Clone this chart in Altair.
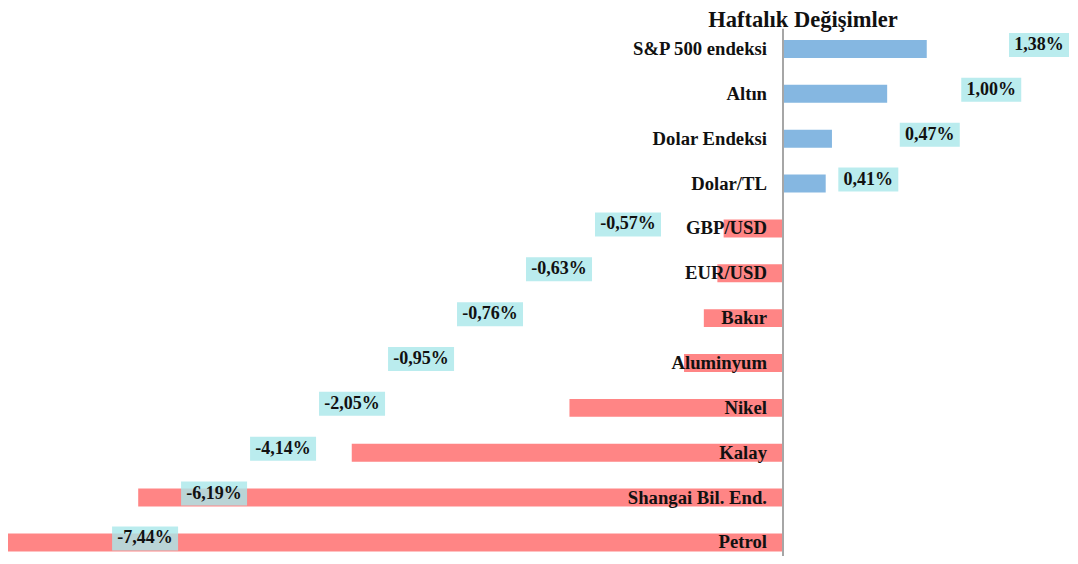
import altair as alt
import pandas as pd

categories = ["S&P 500 endeksi", "Altın", "Dolar Endeksi", "Dolar/TL", "GBP/USD",
              "EUR/USD", "Bakır", "Aluminyum", "Nikel", "Kalay",
              "Shangai Bil. End.", "Petrol"]
changes = [1.38, 1.00, 0.47, 0.41, -0.57, -0.63, -0.76, -0.95, -2.05, -4.14, -6.19, -7.44]
title_text = "Haftalık Değişimler"

BLUE = "#85b7e1"
RED = "#ff8585"
BOX = "#a9e7ea"
FONT = "Liberation Serif"

W = 1062
H = 527.2
XMIN = -7.44
PX_PER_UNIT = 775 / 7.44
XMAX = W / PX_PER_UNIT + XMIN

# staircase placement of value labels (layout, in axis units)
n_pos = sum(1 for c in changes if c > 0)
label_x = []
for i, c in enumerate(changes):
    if c > 0:
        k = n_pos - 1 - i
        label_x.append(min(0.819 + 0.590 * k, XMAX - 31 / PX_PER_UNIT))
    else:
        k = i - n_pos
        label_x.append(-1.488 - 0.6623 * k)

df = pd.DataFrame({
    "cat": categories,
    "value": changes,
    "label": [f"{c:.2f}".replace(".", ",") + "%" for c in changes],
    "lx": label_x,
})

xscale = alt.Scale(domain=[XMIN, XMAX], nice=False, zero=False)
yenc = alt.Y("cat:N", sort=categories, axis=None,
             scale=alt.Scale(paddingInner=0.6, paddingOuter=0.176, align=0.71))

base = alt.Chart(df)

bars = base.mark_bar().encode(
    y=yenc,
    x=alt.X("value:Q", scale=xscale, axis=None, stack=None),
    color=alt.condition("datum.value > 0", alt.value(BLUE), alt.value(RED)),
)

cat_text = base.mark_text(align="right", baseline="middle", dx=-16, dy=0, font=FONT,
                          fontSize=18.7, fontWeight="bold", color="#111111").encode(
    y=yenc,
    x=alt.datum(0),
    text="cat:N",
)

path_neg = "M-1,-0.485L1,-0.485L1,0.242L-1,0.242Z"
path_pos = "M-0.909,-0.485L0.909,-0.485L0.909,0.242L-0.909,0.242Z"

boxes = base.mark_point(filled=True, opacity=0.8, strokeWidth=0, size=4356).encode(
    y=yenc,
    x=alt.X("lx:Q"),
    shape=alt.condition("datum.value < 0", alt.value(path_neg), alt.value(path_pos)),
    color=alt.value(BOX),
)

val_text = base.mark_text(align="center", baseline="middle", dy=-4, font=FONT,
                          fontSize=18, fontWeight="bold", color="#111111").encode(
    y=yenc,
    x=alt.X("lx:Q"),
    text="label:N",
)

axis_rule = alt.Chart(pd.DataFrame({"z": [0]})).mark_rule(
    color="#a6a6a6", strokeWidth=2).encode(
    x=alt.datum(0),
    y=alt.value(0),
    y2=alt.value(H),
)

title = alt.Chart(pd.DataFrame({"t": [title_text]})).mark_text(
    align="center", baseline="top", font=FONT, fontSize=22.5,
    fontWeight="bold", color="#111111").encode(
    x=alt.value(795),
    y=alt.value(-20.3),
    text="t:N",
)

chart = alt.layer(bars, cat_text, boxes, val_text, axis_rule, title).properties(
    width=W,
    height=H,
    autosize=alt.AutoSizeParams(type="none"),
    padding={"left": 0, "top": 20.8, "right": 0, "bottom": 0},
    background="white",
).configure_view(stroke=None)

chart.save("out.html", embed_options={"renderer": "svg", "actions": False})
